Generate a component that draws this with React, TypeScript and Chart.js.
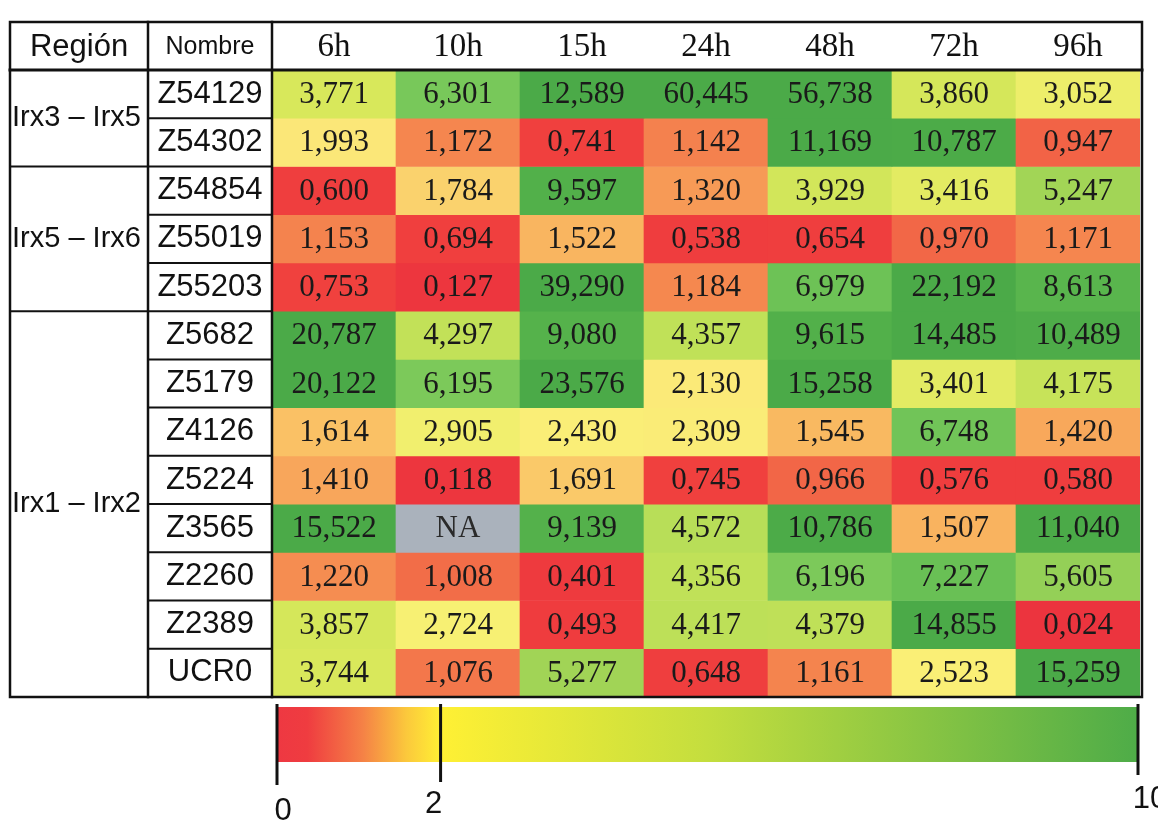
import React, { useEffect, useRef } from 'react';
import { Chart, registerables } from 'chart.js';

Chart.register(...registerables);

// ---- data ----
const hours = ['6h', '10h', '15h', '24h', '48h', '72h', '96h'];
const names = ['Z54129', 'Z54302', 'Z54854', 'Z55019', 'Z55203', 'Z5682', 'Z5179', 'Z4126', 'Z5224', 'Z3565', 'Z2260', 'Z2389', 'UCR0'];
const regions = ['Irx3 – Irx5', 'Irx5 – Irx6', 'Irx1 – Irx2'];
const regionSizes = [2, 3, 8];

const v6h = [3.771, 1.993, 0.6, 1.153, 0.753, 20.787, 20.122, 1.614, 1.41, 15.522, 1.22, 3.857, 3.744];
const v10h = [6.301, 1.172, 1.784, 0.694, 0.127, 4.297, 6.195, 2.905, 0.118, null, 1.008, 2.724, 1.076];
const v15h = [12.589, 0.741, 9.597, 1.522, 39.29, 9.08, 23.576, 2.43, 1.691, 9.139, 0.401, 0.493, 5.277];
const v24h = [60.445, 1.142, 1.32, 0.538, 1.184, 4.357, 2.13, 2.309, 0.745, 4.572, 4.356, 4.417, 0.648];
const v48h = [56.738, 11.169, 3.929, 0.654, 6.979, 9.615, 15.258, 1.545, 0.966, 10.786, 6.196, 4.379, 1.161];
const v72h = [3.86, 10.787, 3.416, 0.97, 22.192, 14.485, 3.401, 6.748, 0.576, 1.507, 7.227, 14.855, 2.523];
const v96h = [3.052, 0.947, 5.247, 1.171, 8.613, 10.489, 4.175, 1.42, 0.58, 11.04, 5.605, 0.024, 15.259];
const columns: (number | null)[][] = [v6h, v10h, v15h, v24h, v48h, v72h, v96h];

const legendTicks = ['0', '2', '10'];

// ---- styles ----
const colorStops: [number, number[]][] = [
  [0, [236, 52, 62]],
  [0.75, [240, 64, 62]],
  [1.0, [242, 108, 72]],
  [1.2, [245, 138, 80]],
  [1.6, [250, 192, 100]],
  [2.0, [251, 232, 120]],
  [2.6, [250, 240, 118]],
  [3.1, [236, 238, 105]],
  [3.8, [215, 232, 90]],
  [4.4, [190, 224, 88]],
  [5.3, [160, 212, 86]],
  [6.3, [120, 200, 90]],
  [7.2, [105, 192, 85]],
  [9.0, [85, 178, 75]],
  [11.0, [75, 170, 72]],
];
const NA_COLOR = 'rgb(170,178,188)';

function colorFor(v: number | null): string {
  if (v == null) return NA_COLOR;
  if (v <= colorStops[0][0]) return `rgb(${colorStops[0][1].join(',')})`;
  for (let i = 1; i < colorStops.length; i++) {
    const [b, cb] = colorStops[i];
    const [a, ca] = colorStops[i - 1];
    if (v <= b) {
      const t = (v - a) / (b - a);
      const c = ca.map((x, k) => Math.round(x + (cb[k] - x) * t));
      return `rgb(${c.join(',')})`;
    }
  }
  return `rgb(${colorStops[colorStops.length - 1][1].join(',')})`;
}

const fmt = (v: number | null) => (v == null ? 'NA' : v.toFixed(3).replace('.', ','));

const SANS = '"Liberation Sans", Arial, sans-serif';
const SERIF = '"Liberation Serif", "Times New Roman", serif';
const NAME_FONT_SIZE = 31;

const tablePlugin = {
  id: 'tablePlugin',
  afterDatasetsDraw(chart: any) {
    const ctx = chart.ctx;
    ctx.save();
    ctx.font = `31px ${SERIF}`;
    ctx.textAlign = 'center';
    ctx.textBaseline = 'middle';
    chart.data.datasets.forEach((_ds: any, r: number) => {
      const meta = chart.getDatasetMeta(r);
      meta.data.forEach((el: any, c: number) => {
        const v = columns[c][r];
        ctx.fillStyle = v == null ? '#2a2a2a' : '#1a1a1a';
        ctx.fillText(fmt(v), el.x, (el.y + el.base) / 2 + 1);
      });
    });
    ctx.restore();
  },
  afterDraw(chart: any) {
    const ctx = chart.ctx;
    const { left, right, top, bottom } = chart.chartArea;
    const ys = chart.scales.y;
    const xs = chart.scales.x;
    const tableLeft = 10;
    const nameLeft = ys.left;
    const headerTop = xs.top;
    const tableRight = right + 2;

    ctx.save();
    ctx.strokeStyle = '#111';
    ctx.lineCap = 'square';

    const line = (x1: number, y1: number, x2: number, y2: number, w: number) => {
      ctx.lineWidth = w;
      ctx.beginPath();
      ctx.moveTo(x1, y1);
      ctx.lineTo(x2, y2);
      ctx.stroke();
    };

    // outer border
    ctx.lineWidth = 2.5;
    ctx.strokeRect(tableLeft, headerTop, tableRight - tableLeft, bottom - headerTop);
    // header bottom
    line(tableLeft, top, tableRight, top, 3);
    // vertical separators
    line(nameLeft, headerTop, nameLeft, bottom, 2.5);
    line(left, headerTop, left, bottom, 2.5);
    // row separators in the name column
    for (let r = 1; r < names.length; r++) {
      const y = ys.getPixelForValue(r);
      line(nameLeft, y, left, y, 2);
    }
    // region separators and labels
    let acc = 0;
    regionSizes.forEach((n, i) => {
      const yTop = ys.getPixelForValue(acc);
      const yBot = ys.getPixelForValue(acc + n);
      if (i > 0) line(tableLeft, yTop, nameLeft, yTop, 2);
      ctx.fillStyle = '#111';
      ctx.font = `29px ${SANS}`;
      ctx.textAlign = 'left';
      ctx.textBaseline = 'middle';
      ctx.fillText(regions[i], tableLeft + 2, (yTop + yBot) / 2);
      acc += n;
    });

    // header texts
    ctx.fillStyle = '#111';
    ctx.textAlign = 'center';
    ctx.textBaseline = 'middle';
    ctx.font = `31px ${SANS}`;
    ctx.fillText('Región', (tableLeft + nameLeft) / 2, (headerTop + top) / 2 + 1);
    ctx.font = `25px ${SANS}`;
    ctx.fillText('Nombre', (nameLeft + left) / 2, (headerTop + top) / 2 + 1);

    // colour legend
    const lx0 = left + 5;
    const lx1 = right - 2;
    const barTop = bottom + 10;
    const barH = 55;
    const f2 = 0.19;
    const g = ctx.createLinearGradient(lx0, 0, lx1, 0);
    g.addColorStop(0, 'rgb(238,56,66)');
    g.addColorStop(0.035, 'rgb(239,60,64)');
    g.addColorStop(0.1, 'rgb(245,130,70)');
    g.addColorStop(0.15, 'rgb(251,200,60)');
    g.addColorStop(f2, 'rgb(255,240,52)');
    g.addColorStop(0.5, 'rgb(196,222,62)');
    g.addColorStop(1, 'rgb(78,172,72)');
    ctx.fillStyle = g;
    ctx.fillRect(lx0, barTop, lx1 - lx0, barH);

    const tickXs = [lx0, lx0 + f2 * (lx1 - lx0), lx1];
    const tickEnds = [barTop + 78, barTop + 75, barTop + 68];
    const labelDx = [6, -7, 12];
    const labelY = [bottom + 114, bottom + 107, bottom + 102];
    ctx.lineCap = 'butt';
    tickXs.forEach((x, i) => {
      line(x, barTop - 3, x, tickEnds[i], 3);
      ctx.fillStyle = '#111';
      ctx.font = `31px ${SANS}`;
      ctx.textAlign = 'center';
      ctx.textBaseline = 'middle';
      ctx.fillText(legendTicks[i], x + labelDx[i], labelY[i]);
    });

    ctx.restore();
  },
};

export default function App() {
  const ref = useRef<HTMLCanvasElement | null>(null);

  useEffect(() => {
    if (!ref.current) return;
    const mctx = document.createElement('canvas').getContext('2d')!;
    mctx.font = `${NAME_FONT_SIZE}px ${SANS}`;
    const widest = Math.max(...names.map((n) => mctx.measureText(n).width));
    const nameColW = 124;

    const chart = new Chart(ref.current, {
      type: 'bar',
      data: {
        labels: hours,
        datasets: names.map((n, r) => ({
          label: n,
          data: columns.map(() => [r, r + 1] as [number, number]),
          backgroundColor: columns.map((col) => colorFor(col[r])),
          borderWidth: 0,
          grouped: false,
          barPercentage: 1,
          categoryPercentage: 1,
        })),
      },
      options: {
        animation: false,
        responsive: false,
        maintainAspectRatio: false,
        layout: { padding: { left: 148, top: 22, right: 18, bottom: 131 } },
        plugins: { legend: { display: false }, tooltip: { enabled: false } },
        scales: {
          x: {
            type: 'category',
            position: 'top',
            grid: { display: false, drawTicks: false },
            border: { display: false },
            ticks: { font: { family: SERIF, size: 33 }, color: '#111', padding: 3 },
            afterFit: (s: any) => {
              s.height = 48;
            },
          },
          y: {
            type: 'linear',
            min: 0,
            max: names.length,
            reverse: true,
            position: 'left',
            grid: { display: false, drawTicks: false },
            border: { display: false },
            afterBuildTicks: (s: any) => {
              s.ticks = names.map((_n, i) => ({ value: i + 0.5 }));
            },
            ticks: {
              autoSkip: false,
              crossAlign: 'center',
              padding: Math.max(0, (nameColW - widest) / 2),
              font: { family: SANS, size: NAME_FONT_SIZE },
              color: '#111',
              callback: (_v: any, i: number) => names[i],
            },
            afterFit: (s: any) => {
              s.width = nameColW;
            },
          },
        },
      } as any,
      plugins: [tablePlugin],
    });
    return () => chart.destroy();
  }, []);

  return (
    <div style={{ position: 'absolute', left: 0, top: 0, width: 1158, height: 828, background: '#fff' }}>
      <canvas ref={ref} width={1158} height={828} />
    </div>
  );
}
